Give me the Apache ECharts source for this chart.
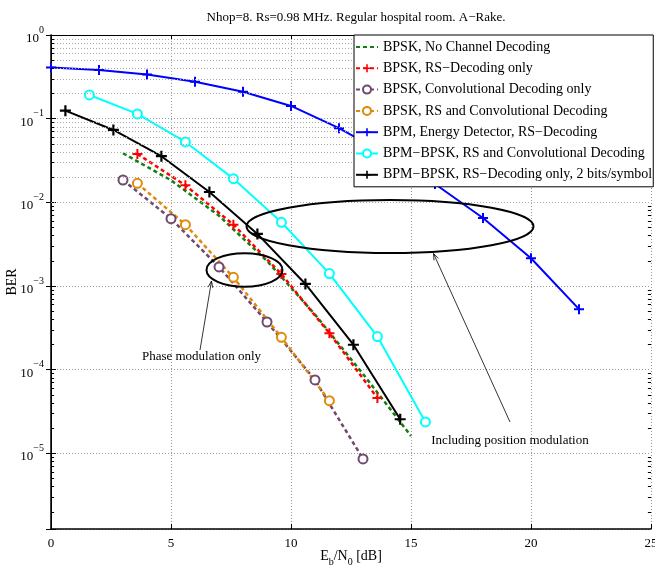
<!DOCTYPE html>
<html>
<head>
<meta charset="utf-8">
<script src="https://cdn.jsdelivr.net/npm/echarts@6/dist/echarts.min.js"></script>
<style>
  html, body { margin: 0; padding: 0; background: #fff; }
  #chart { width: 655px; height: 569px; }
</style>
</head>
<body>
<div id="chart"></div>
<script>
// Eb/N0 [dB] and BER values
const xNoCoding = [3, 5, 7, 9, 11, 13, 15]
const berNoCoding = [0.0386, 0.0184, 0.00692, 0.0020, 4.57e-4, 8.9e-5, 1.62e-5]

const xRsOnly = [3.6, 5.6, 7.6, 9.6, 11.6, 13.6]
const berRsOnly = [0.0379, 0.016, 0.00542, 0.00139, 2.73e-4, 4.6e-5]

const xConvOnly = [3, 5, 7, 9, 11, 13]
const berConvOnly = [0.0185, 0.00638, 0.00169, 3.72e-4, 7.55e-5, 8.6e-6]

const xRsConv = [3.6, 5.6, 7.6, 9.6, 11.6]
const berRsConv = [0.0169, 0.00542, 0.00127, 2.44e-4, 4.27e-5]

const xBpmEnergy = [0, 2, 4, 6, 8, 10, 12, 14, 16, 18, 20, 22]
const berBpmEnergy = [0.41, 0.382, 0.337, 0.277, 0.21, 0.142, 0.077, 0.037, 0.0166, 0.0065, 0.00215, 0.00053]

const xBpmBpskConv = [1.6, 3.6, 5.6, 7.6, 9.6, 11.6, 13.6, 15.6]
const berBpmBpskConv = [0.192, 0.114, 0.0527, 0.0192, 0.00578, 0.00141, 2.49e-4, 2.38e-5]

const xBpmBpskRs = [0.6, 2.6, 4.6, 6.6, 8.6, 10.6, 12.6, 14.55]
const berBpmBpskRs = [0.1247, 0.0733, 0.0356, 0.0133, 0.0042, 0.00106, 1.99e-4, 2.56e-5]

const seriesNames = [
    'BPSK, No Channel Decoding',
    'BPSK, RS\u2212Decoding only',
    'BPSK, Convolutional Decoding only',
    'BPSK, RS and Convolutional Decoding',
    'BPM, Energy Detector, RS\u2212Decoding',
    'BPM\u2212BPSK, RS and Convolutional Decoding',
    'BPM\u2212BPSK, RS\u2212Decoding only, 2 bits/symbol'
]

const xTicks = [0, 5, 10, 15, 20, 25]
const yMin = 1.25e-6
const yMax = 1

// minor values 2..9 per decade
const minorGrid = []
for (let e = -6; e < 0; e++) {
    for (let m = 2; m <= 9; m++) {
        const v = m * Math.pow(10, e)
        if (v > yMin && v < yMax) minorGrid.push(v)
    }
}

const font = 'Liberation Serif'
const plus = 'path://M4,0H6V10H4Z M0,4H10V6H0Z'

function pairs(xs, ys) {
    return xs.map((x, i) => [x, ys[i]])
}

function makeSeries(name, xs, ys, color, opts) {
    return Object.assign({
        name: name,
        type: 'line',
        data: pairs(xs, ys),
        color: color,
        symbol: 'none',
        symbolSize: 9,
        showSymbol: true,
        animation: false,
        lineStyle: { color: color, width: 2 },
        itemStyle: { color: color, borderColor: color, borderWidth: 2 },
        emphasis: { disabled: true }
    }, opts)
}

let chart = echarts.init(document.getElementById('chart'))

const dashed = { type: [4, 3], width: 2.5 }
const xMin = xTicks[0], xMax = xTicks[xTicks.length - 1]

// minor grid lines plus short inside ticks on both vertical axes
const minorMarks = []
minorGrid.forEach(v => {
    minorMarks.push({ yAxis: v, lineStyle: { color: '#aaa', type: [1, 2], width: 1 } })
    minorMarks.push([{ coord: [xMin, v], lineStyle: { color: '#000', type: 'solid', width: 1 } }, { coord: [xMin + 0.13, v] }])
    minorMarks.push([{ coord: [xMax - 0.13, v], lineStyle: { color: '#000', type: 'solid', width: 1 } }, { coord: [xMax, v] }])
})

chart.setOption({
    backgroundColor: '#fff',
    animation: false,
    title: {
        text: 'Nhop=8. Rs=0.98 MHz. Regular hospital room. A\u2212Rake.',
        left: 351,
        textAlign: 'center',
        top: 6,
        textStyle: { fontFamily: font, fontSize: 13, fontWeight: 'normal', color: '#000' }
    },
    grid: { left: 51, right: 4, top: 35, bottom: 40, outerBoundsMode: 'none', containLabel: false },
    legend: {
        orient: 'vertical',
        left: 354,
        top: 35,
        z: 20,
        padding: [5, 1, 5, 1],
        itemWidth: 22,
        itemHeight: 10,
        itemGap: 7.3,
        backgroundColor: '#fff',
        borderColor: '#000',
        borderWidth: 1,
        borderRadius: 0,
        data: seriesNames.map((n, i) => i === 0 ? { name: n, itemStyle: { opacity: 0 } } : n),
        textStyle: { fontFamily: font, fontSize: 14, lineHeight: 14, color: '#000' }
    },
    xAxis: [{
        type: 'value',
        min: xMin,
        max: xMax,
        interval: 5,
        name: '{n|E}{s|b}{n|/N}{s|0}{n| [dB]}',
        nameLocation: 'middle',
        nameGap: 20,
        nameMoveOverlap: false,
        nameTextStyle: {
            rich: {
                n: { fontFamily: font, fontSize: 14, color: '#000', verticalAlign: 'top', lineHeight: 18 },
                s: { fontFamily: font, fontSize: 10, color: '#000', verticalAlign: 'bottom', lineHeight: 10 }
            }
        },
        axisLine: { lineStyle: { color: '#000', width: 1.5 } },
        axisTick: { inside: true, length: 5, lineStyle: { color: '#000' } },
        axisLabel: { fontFamily: font, fontSize: 13, color: '#000', margin: 8 },
        splitLine: { show: true, lineStyle: { color: '#999', type: [1, 2], width: 1 } }
    }, {
        type: 'value',
        position: 'top',
        min: xMin,
        max: xMax,
        interval: 5,
        axisLine: { show: true, lineStyle: { color: '#000', width: 1 } },
        axisTick: { inside: true, length: 5, lineStyle: { color: '#000' } },
        axisLabel: { show: false },
        splitLine: { show: false }
    }],
    yAxis: [{
        type: 'log',
        logBase: 10,
        min: yMin,
        max: yMax,
        name: 'BER',
        nameLocation: 'middle',
        nameGap: 32,
        nameMoveOverlap: false,
        nameTextStyle: { fontFamily: font, fontSize: 14, color: '#000' },
        axisLine: { show: true, lineStyle: { color: '#000', width: 1.5 } },
        axisTick: { inside: true, length: 5, lineStyle: { color: '#000' } },
        axisLabel: {
            margin: 7,
            formatter: function (v) {
                const e = Math.round(Math.log10(v))
                if (Math.abs(Math.log10(v) - e) > 0.01) return ''
                return '{b|10}{s|' + (e < 0 ? '\u2212' + (-e) : e) + '}'
            },
            rich: {
                b: { fontFamily: font, fontSize: 13, color: '#000', verticalAlign: 'bottom', lineHeight: 20 },
                s: { fontFamily: font, fontSize: 10, color: '#000', verticalAlign: 'top', lineHeight: 10 }
            }
        },
        splitLine: { show: true, lineStyle: { color: '#999', type: [1, 2], width: 1 } }
    }, {
        type: 'log',
        logBase: 10,
        min: yMin,
        max: yMax,
        position: 'right',
        axisLine: { show: true, lineStyle: { color: '#000', width: 1 } },
        axisTick: { inside: true, length: 5, lineStyle: { color: '#000' } },
        axisLabel: { show: false },
        splitLine: { show: false }
    }],
    series: [
        {
            name: 'minor grid',
            type: 'line',
            data: [],
            silent: true,
            markLine: {
                silent: true,
                symbol: 'none',
                animation: false,
                label: { show: false },
                emphasis: { disabled: true },
                lineStyle: { color: '#aaa', type: [1, 2], width: 1 },
                data: minorMarks
            }
        },
        makeSeries(seriesNames[0], xNoCoding, berNoCoding, '#108010', { lineStyle: Object.assign({ color: '#108010' }, dashed) }),
        makeSeries(seriesNames[1], xRsOnly, berRsOnly, '#ff0000', {
            symbol: plus, symbolSize: 10,
            lineStyle: Object.assign({ color: '#ff0000' }, dashed),
            itemStyle: { color: '#ff0000' }
        }),
        makeSeries(seriesNames[2], xConvOnly, berConvOnly, '#6e4a6e', {
            symbol: 'emptyCircle', symbolSize: 9,
            lineStyle: Object.assign({ color: '#6e4a6e' }, dashed)
        }),
        makeSeries(seriesNames[3], xRsConv, berRsConv, '#e08a0c', {
            symbol: 'emptyCircle', symbolSize: 9,
            lineStyle: Object.assign({ color: '#e08a0c' }, dashed)
        }),
        makeSeries(seriesNames[4], xBpmEnergy, berBpmEnergy, '#0000ff', {
            symbol: plus, symbolSize: 10, itemStyle: { color: '#0000ff' }
        }),
        makeSeries(seriesNames[5], xBpmBpskConv, berBpmBpskConv, '#00ffff', {
            symbol: 'emptyCircle', symbolSize: 9
        }),
        makeSeries(seriesNames[6], xBpmBpskRs, berBpmBpskRs, '#000000', {
            symbol: plus, symbolSize: 11, itemStyle: { color: '#000000' }
        })
    ]
})

// annotations: ellipses, arrows and their captions
function arrow(x1, y1, x2, y2) {
    const a = Math.atan2(y2 - y1, x2 - x1)
    const len = 7, spread = 0.35
    return [
        { type: 'line', shape: { x1: x1, y1: y1, x2: x2, y2: y2 }, style: { stroke: '#000', lineWidth: 0.8 } },
        {
            type: 'polyline',
            shape: { points: [
                [x2 - len * Math.cos(a - spread), y2 - len * Math.sin(a - spread)],
                [x2, y2],
                [x2 - len * Math.cos(a + spread), y2 - len * Math.sin(a + spread)]
            ] },
            style: { stroke: '#000', lineWidth: 0.8, fill: null }
        }
    ]
}

chart.setOption({
    graphic: [
        { type: 'ellipse', shape: { cx: 244.5, cy: 270, rx: 38, ry: 16.7 }, style: { stroke: '#000', lineWidth: 2, fill: null }, z: 100 },
        { type: 'ellipse', shape: { cx: 390, cy: 226.5, rx: 143.5, ry: 26.5 }, style: { stroke: '#000', lineWidth: 2, fill: null }, z: 100 },
        ...arrow(200, 350, 211.5, 281),
        ...arrow(510, 422, 433.5, 253.5),
        {
            type: 'text', x: 201.5, y: 357, z: 100,
            style: { text: 'Phase modulation only', fontFamily: font, fontSize: 13, fill: '#000', align: 'center', verticalAlign: 'middle' }
        },
        {
            type: 'text', x: 510, y: 441, z: 100,
            style: { text: 'Including position modulation', fontFamily: font, fontSize: 13, fill: '#000', align: 'center', verticalAlign: 'middle' }
        }
    ]
})
</script>
</body>
</html>
